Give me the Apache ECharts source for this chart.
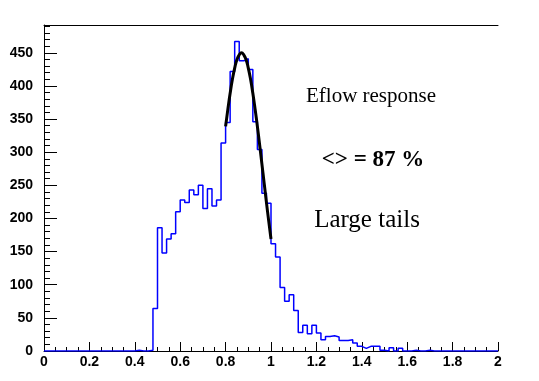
<!DOCTYPE html>
<html>
<head>
<meta charset="utf-8">
<script src="https://cdn.jsdelivr.net/npm/echarts@6/dist/echarts.min.js"></script>
<style>html,body{margin:0;padding:0;background:#fff;}#c{width:539px;height:381px;}</style>
</head>
<body>
<div id="c"></div>
<script>
// Histogram: 100 bins of width 0.02 from 0 to 2
const binWidth = 0.02;
const counts = [
  0,0,0,0,0,0,0,0,0,0,
  0,0,0,0,0,0,0,0,0,0,
  1,0,0,1,64,186,148,169,177,210,
  228,224,243,236,250,215,245,219,228,314,
  345,422,467,438,441,425,346,304,238,223,
  162,142,96,75,85,61,28,39,26,39,
  27,17,22,23,21,16,16,17,12,7,
  4,7,7,7,1,0,5,0,4,0,
  0,1,0,0,1,0,0,0,0,0,
  0,0,0,0,0,0,0,0,0,0
];
// Fit curve points
const fitX = [0.80,0.81,0.82,0.83,0.84,0.85,0.86,0.87,0.88,0.89,0.90,0.91,0.92,0.93,0.94,0.95,0.96,0.97,0.98,0.99,1.00];
const fitY = [339,365,389,410,427,440,447,450,447,440,427,410,389,365,339,311,282,253,224,196,169];
// Axis ticks
const xTickLabels = ['0','0.2','0.4','0.6','0.8','1','1.2','1.4','1.6','1.8','2'];
const yTickLabels = ['0','50','100','150','200','250','300','350','400','450'];
const annotations = ['Eflow response', '<> = 87 %', 'Large tails'];

const histData = counts.map((v, i) => [i * binWidth, v]);
histData.push([counts.length * binWidth, counts[counts.length - 1]]);
const fitData = fitX.map((x, i) => [x, fitY[i]]);

const chart = echarts.init(document.getElementById('c'), null, {renderer: 'canvas'});
const labelFont = {color: '#000', fontFamily: 'Liberation Sans, Arial, sans-serif', fontWeight: 'bold', fontSize: 14};
chart.setOption({
  animation: false,
  backgroundColor: '#fff',
  grid: {left: 44, right: 41, top: 25, bottom: 30, containLabel: false},
  xAxis: [{
    type: 'value', min: 0, max: 2, interval: 0.2,
    axisLine: {show: true, lineStyle: {color: '#000', width: 1}},
    axisTick: {show: true, inside: true, length: 9, lineStyle: {color: '#000'}},
    minorTick: {show: true, splitNumber: 4, length: 4, lineStyle: {color: '#000'}},
    splitLine: {show: false},
    axisLabel: Object.assign({margin: 4, formatter: v => xTickLabels[Math.round(v / 0.2)] ?? ''}, labelFont)
  }, {
    type: 'value', min: 0, max: 2, position: 'top',
    axisLine: {show: true, onZero: false, lineStyle: {color: '#000', width: 1}},
    axisTick: {show: false}, axisLabel: {show: false}, splitLine: {show: false}
  }],
  yAxis: {
    type: 'value', min: 0, max: 492, interval: 50,
    axisLine: {show: true, lineStyle: {color: '#000', width: 1}},
    axisTick: {show: true, inside: true, length: 13, lineStyle: {color: '#000'}},
    minorTick: {show: true, splitNumber: 5, length: 6, lineStyle: {color: '#000'}},
    splitLine: {show: false},
    axisLabel: Object.assign({margin: 11, showMaxLabel: false, formatter: v => yTickLabels[Math.round(v / 50)] ?? ''}, labelFont)
  },
  series: [{
    type: 'line', data: histData, step: 'end', symbol: 'none',
    lineStyle: {color: '#0000ff', width: 1.5}, z: 2
  }, {
    type: 'line', data: fitData, symbol: 'none', smooth: true,
    lineStyle: {color: '#000', width: 3}, z: 3
  }],
  graphic: [
    {type: 'text', x: 371, y: 96, style: {text: annotations[0], fill: '#000', font: '21px "Liberation Serif", "Times New Roman", serif', textAlign: 'center', textVerticalAlign: 'middle'}},
    {type: 'text', x: 373, y: 160, style: {text: annotations[1], fill: '#000', font: 'bold 23px "Liberation Serif", "Times New Roman", serif', textAlign: 'center', textVerticalAlign: 'middle'}},
    {type: 'text', x: 367, y: 220, style: {text: annotations[2], fill: '#000', font: '25px "Liberation Serif", "Times New Roman", serif', textAlign: 'center', textVerticalAlign: 'middle'}}
  ]
});
</script>
</body>
</html>
